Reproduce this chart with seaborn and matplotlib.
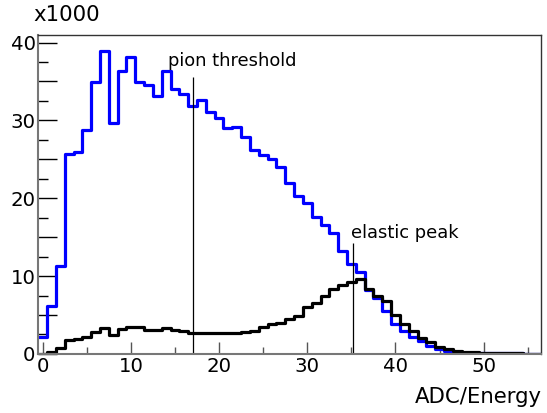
import numpy as np
import pandas as pd
import matplotlib
matplotlib.use("Agg")
import matplotlib.pyplot as plt
from matplotlib.ticker import MultipleLocator, FuncFormatter
import seaborn as sns

# bin centers (ADC/Energy), width 1
bin_centers = list(range(0, 57))

# blue histogram (counts)
blue_counts = [2200, 6100, 11300, 25700, 26000, 28700, 34900, 38900, 29600, 36400,
               38100, 34900, 34600, 33100, 36300, 34000, 33400, 31800, 32600, 31100,
               30300, 29000, 29200, 27900, 26200, 25500, 25000, 24000, 21900, 20300,
               19400, 17600, 16500, 15500, 13200, 11500, 10500, 8200, 7200, 5500,
               3900, 3000, 2200, 1700, 1000, 600, 400, 250, 150, 120,
               100, 90, 80, 70, 60, 50, 40]

# black histogram (counts)
black_counts = [50, 300, 700, 1800, 1900, 2200, 2800, 3300, 2400, 3200,
                3500, 3400, 3100, 3100, 3300, 3100, 2900, 2750, 2740, 2740,
                2740, 2700, 2740, 2800, 3000, 3400, 3800, 4000, 4500, 4900,
                6000, 6600, 7500, 8400, 8900, 9200, 9600, 8400, 7400, 6800,
                5000, 3900, 2900, 2100, 1500, 900, 600, 400, 300, 200,
                150, 120, 100, 80, 60, 50, 40]

pion_x, pion_top = 17.0, 35600
elastic_x, elastic_top = 35.2, 14200

sns.set_style("white")
plt.rcParams['font.family'] = ['DejaVu Sans']
plt.rcParams['text.color'] = 'black'
plt.rcParams['xtick.labelcolor'] = 'black'
plt.rcParams['ytick.labelcolor'] = 'black'

fig = plt.figure(figsize=(5.47, 4.13), dpi=100)
ax = fig.add_axes([0.070, 0.143, 0.919, 0.772])

df = pd.DataFrame({"x": bin_centers, "blue": blue_counts, "black": black_counts})
sns.histplot(data=df, x="x", weights="blue", binwidth=1, binrange=(-0.5, 56.5),
             element="step", fill=False, color="#0000ff", linewidth=2.3, ax=ax)
sns.histplot(data=df, x="x", weights="black", binwidth=1, binrange=(-0.5, 56.5),
             element="step", fill=False, color="black", linewidth=2.3, ax=ax)

ax.vlines([pion_x], 0, pion_top, color="black", linewidth=0.9)
ax.vlines([elastic_x], 0, elastic_top, color="black", linewidth=0.9)
ax.text(14.18, 36950, "pion threshold", fontsize=12.9, ha="left", va="baseline",
        color="black")
ax.text(34.94, 14900, "elastic peak", fontsize=12.9, ha="left", va="baseline",
        color="black")

ax.set_xlim(-0.5, 56.5)
ax.set_ylim(0, 40950)
ax.set_xlabel("")
ax.set_ylabel("")

ax.xaxis.set_major_locator(MultipleLocator(10))
ax.xaxis.set_minor_locator(MultipleLocator(5))
ax.yaxis.set_major_locator(MultipleLocator(5000))
ax.yaxis.set_minor_locator(MultipleLocator(2500))
ax.yaxis.set_major_formatter(FuncFormatter(
    lambda v, p: f"{int(round(v/1000))}" if abs(v % 10000) < 1 else ""))

ax.tick_params(axis="x", which="major", direction="in", length=9, width=1,
               color="#555555", labelsize=14.2, pad=2, labelcolor="black")
ax.tick_params(axis="x", which="minor", direction="in", length=5, width=1,
               color="#555555")
ax.tick_params(axis="y", which="major", direction="in", length=14, width=1,
               color="black", labelsize=14.2, pad=2, labelcolor="black")
ax.tick_params(axis="y", which="minor", direction="in", length=7, width=1,
               color="black")
ax.tick_params(bottom=True, left=True, which="both")

for s in ["left", "bottom"]:
    ax.spines[s].set_color("#777777")
    ax.spines[s].set_linewidth(1.5)
for s in ["top", "right"]:
    ax.spines[s].set_color("#333333")
    ax.spines[s].set_linewidth(1.0)

fig.text(33/547, 1 - 15/413, "x1000", fontsize=15.3, ha="left", va="center",
         color="black")
fig.text(542/547, 1 - 397/413, "ADC/Energy", fontsize=15.3, ha="right", va="center",
         color="black")

fig.savefig("out.png", dpi=100)
